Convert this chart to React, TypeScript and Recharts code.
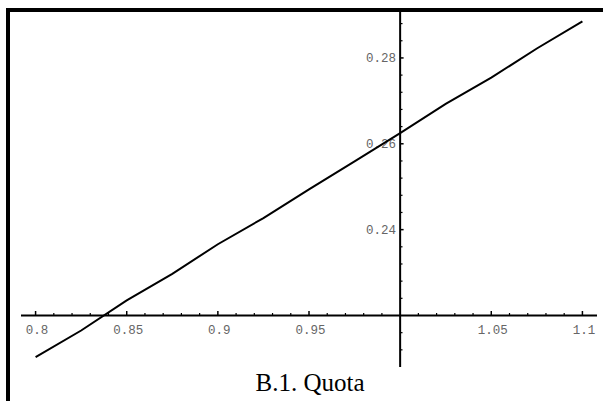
import React from 'react';
import { LineChart, Line, XAxis, YAxis, ReferenceLine } from 'recharts';

// sampled curve
const xs = [0.8, 0.825, 0.85, 0.875, 0.9, 0.925, 0.95, 0.975, 1.0, 1.025, 1.05, 1.075, 1.1];
const quota = [0.2103, 0.2165, 0.2235, 0.2297, 0.2366, 0.2427, 0.2494, 0.2559, 0.2625, 0.2693, 0.2754, 0.2822, 0.2885];

// axes cross at (1, 0.22)
const xOrigin = 1.0;
const yOrigin = 0.22;
const xDomain = [0.792, 1.108];
const yDomain = [0.208, 0.2907];

const xMajor = [0.8, 0.85, 0.9, 0.95, 1.05, 1.1];
const xMajorLabels = ['0.8', '0.85', '0.9', '0.95', '1.05', '1.1'];
const yMajor = [0.24, 0.26, 0.28];
const yMajorLabels = ['0.24', '0.26', '0.28'];

const W = 603;
const H = 401;
const MARGIN = { top: 12, right: 6, bottom: 34, left: 21 };

const data = xs.map((x, i) => ({ x, y: quota[i] }));

// tick lengths in data units (roughly 4.5px / 2.5px on screen)
const xTickMajor = 0.00105;
const xTickMinor = 0.00058;
const yTickMajor = 0.0019;
const yTickMinor = 0.0013;

const round = (v: number) => Math.round(v * 10000) / 10000;

const xMinor: number[] = [];
for (let i = 0; i <= 30; i++) {
  const v = round(0.8 + i * 0.01);
  if (v !== xOrigin && !xMajor.includes(v)) xMinor.push(v);
}
const yMinor: number[] = [];
for (let i = 0; i <= 19; i++) {
  const v = round(0.212 + i * 0.004);
  if (v !== yOrigin && !yMajor.includes(v)) yMinor.push(v);
}

const tickFont = {
  fontFamily: '"Liberation Mono", "Courier New", monospace',
  fontSize: 12.5,
  fill: '#666',
};

const XLabel = ({ viewBox, value }: any) => {
  if (!viewBox) return null;
  return (
    <text
      x={viewBox.x + viewBox.width / 2 + 1.5}
      y={viewBox.y + viewBox.height + 18.5}
      textAnchor="middle"
      {...tickFont}
    >
      {value}
    </text>
  );
};

const YLabel = ({ viewBox, value }: any) => {
  if (!viewBox) return null;
  return (
    <text x={viewBox.x - 4} y={viewBox.y + 4.5} textAnchor="end" {...tickFont}>
      {value}
    </text>
  );
};

export default function App() {
  return (
    <div
      style={{
        position: 'absolute',
        left: 0,
        top: 0,
        width: W,
        height: H,
        background: '#fff',
        overflow: 'hidden',
      }}
    >
      <LineChart width={W} height={H} data={data} margin={MARGIN}>
        <XAxis type="number" dataKey="x" domain={xDomain} allowDataOverflow hide />
        <YAxis type="number" dataKey="y" domain={yDomain} allowDataOverflow hide />

        {/* axis lines */}
        <ReferenceLine y={yOrigin} stroke="#000" strokeWidth={2} />
        <ReferenceLine x={xOrigin} stroke="#000" strokeWidth={2} />

        {xMinor.map((v) => (
          <ReferenceLine
            key={`xm${v}`}
            segment={[{ x: v, y: yOrigin }, { x: v, y: yOrigin + xTickMinor }]}
            stroke="#000"
            strokeWidth={1.2}
          />
        ))}
        {xMajor.map((v, i) => (
          <ReferenceLine
            key={`xM${v}`}
            segment={[{ x: v, y: yOrigin }, { x: v, y: yOrigin + xTickMajor }]}
            stroke="#000"
            strokeWidth={1.5}
            label={<XLabel value={xMajorLabels[i]} />}
          />
        ))}
        {yMinor.map((v) => (
          <ReferenceLine
            key={`ym${v}`}
            segment={[{ x: xOrigin, y: v }, { x: xOrigin + yTickMinor, y: v }]}
            stroke="#000"
            strokeWidth={1.2}
          />
        ))}
        {yMajor.map((v, i) => (
          <ReferenceLine
            key={`yM${v}`}
            segment={[{ x: xOrigin, y: v }, { x: xOrigin + yTickMajor, y: v }]}
            stroke="#000"
            strokeWidth={1.5}
            label={<YLabel value={yMajorLabels[i]} />}
          />
        ))}

        <Line
          type="linear"
          dataKey="y"
          stroke="#000"
          strokeWidth={2}
          dot={false}
          isAnimationActive={false}
        />
      </LineChart>

      {/* frame */}
      <div style={{ position: 'absolute', left: 6, top: 8, width: W - 6, height: 4, background: '#000' }} />
      <div style={{ position: 'absolute', left: 6, top: 8, width: 4, height: H - 8, background: '#000' }} />

      <div
        style={{
          position: 'absolute',
          left: 0,
          width: 620,
          top: 368,
          textAlign: 'center',
          fontFamily: '"Liberation Serif", "Times New Roman", serif',
          fontSize: 25,
          lineHeight: '30px',
          color: '#000',
        }}
      >
        B.1. Quota
      </div>
    </div>
  );
}
